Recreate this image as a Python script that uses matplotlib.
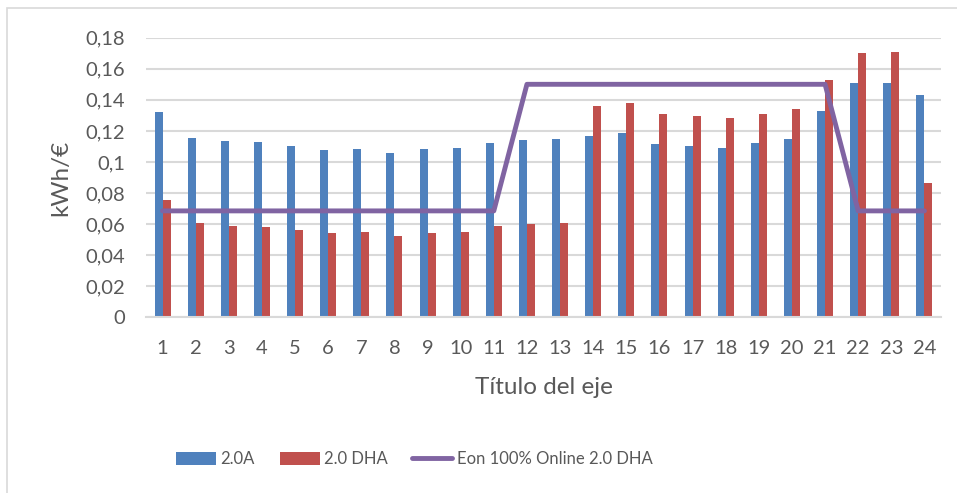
import matplotlib
matplotlib.use('agg')
from matplotlib import pyplot as plt
from matplotlib.patches import Rectangle
import numpy as np

plt.rcParams['font.family'] = ['Lato', 'DejaVu Sans']

# data
horas = [str(h) for h in range(1, 25)]
tarifa_20a = [0.1322, 0.1156, 0.1135, 0.1129, 0.1101, 0.1079, 0.1083, 0.1060,
              0.1083, 0.1088, 0.1120, 0.1141, 0.1148, 0.1169, 0.1186, 0.1116,
              0.1101, 0.1090, 0.1122, 0.1148, 0.1330, 0.1506, 0.1508, 0.1433]
tarifa_20dha = [0.0757, 0.0605, 0.0588, 0.0584, 0.0560, 0.0541, 0.0549, 0.0526,
                0.0543, 0.0551, 0.0586, 0.0601, 0.0607, 0.1360, 0.1380, 0.1307,
                0.1294, 0.1283, 0.1311, 0.1339, 0.1525, 0.1701, 0.1706, 0.0865]
eon_online = [0.0685] * 11 + [0.150] * 10 + [0.0685] * 3
y_ticks = [0, 0.02, 0.04, 0.06, 0.08, 0.10, 0.12, 0.14, 0.16, 0.18]
y_labels = ['0', '0,02', '0,04', '0,06', '0,08', '0,1', '0,12', '0,14', '0,16', '0,18']

azul = '#4F81BD'
rojo = '#C0504D'
morado = '#8064A2'
gris = '#595959'

fig = plt.figure(figsize=(9.57, 4.93), dpi=100)
ax = fig.add_axes([146 / 957, 1 - 317.3 / 493, 795 / 957, 279.6 / 493])

x = np.arange(len(horas))
w = 0.24
b1 = ax.bar(x - w / 2, tarifa_20a, w, color=azul, label='2.0A', zorder=2)
b2 = ax.bar(x + w / 2, tarifa_20dha, w, color=rojo, label='2.0 DHA', zorder=2)
l1, = ax.plot(x, eon_online, color=morado, lw=3.5, solid_capstyle='round',
              solid_joinstyle='round', label='Eon 100% Online 2.0 DHA', zorder=3)

ax.set_xlim(-0.5, len(horas) - 0.5)
ax.set_ylim(0, 0.18)
ax.set_yticks(y_ticks)
ax.set_yticklabels(y_labels)
ax.set_xticks(x)
ax.set_xticklabels(horas)
ax.tick_params(axis='y', length=0, pad=15, labelsize=14.5, labelcolor=gris)
ax.tick_params(axis='x', length=0, pad=16, labelsize=14.5, labelcolor=gris)
ax.grid(axis='y', color='#D9D9D9', lw=1.5, zorder=0)
for s in ['top', 'right', 'left']:
    ax.spines[s].set_visible(False)
ax.spines['bottom'].set_color('#D9D9D9')
ax.spines['bottom'].set_linewidth(1.5)

ax.set_xlabel('Título del eje', fontsize=17.5, color=gris, labelpad=15)
ax.set_ylabel('kWh/€', fontsize=17.5, color=gris, labelpad=10)

leg = fig.legend([b1, b2, l1], ['2.0A', '2.0 DHA', 'Eon 100% Online 2.0 DHA'],
                 loc='center left', bbox_to_anchor=(176 / 957, 1 - 459 / 493),
                 ncol=3, frameon=False, fontsize=12, borderpad=0, borderaxespad=0,
                 handlelength=2.4, handleheight=0.85,
                 handletextpad=0.25, columnspacing=1.5, labelcolor=gris)

# borde del grafico
fig.patches.append(Rectangle((7.5 / 957, -0.1), 1.2, 1.1 - 8 / 493,
                             transform=fig.transFigure, fill=False,
                             edgecolor='#D9D9D9', lw=1.2))

plt.savefig('out.png', dpi=100)
plt.close()
